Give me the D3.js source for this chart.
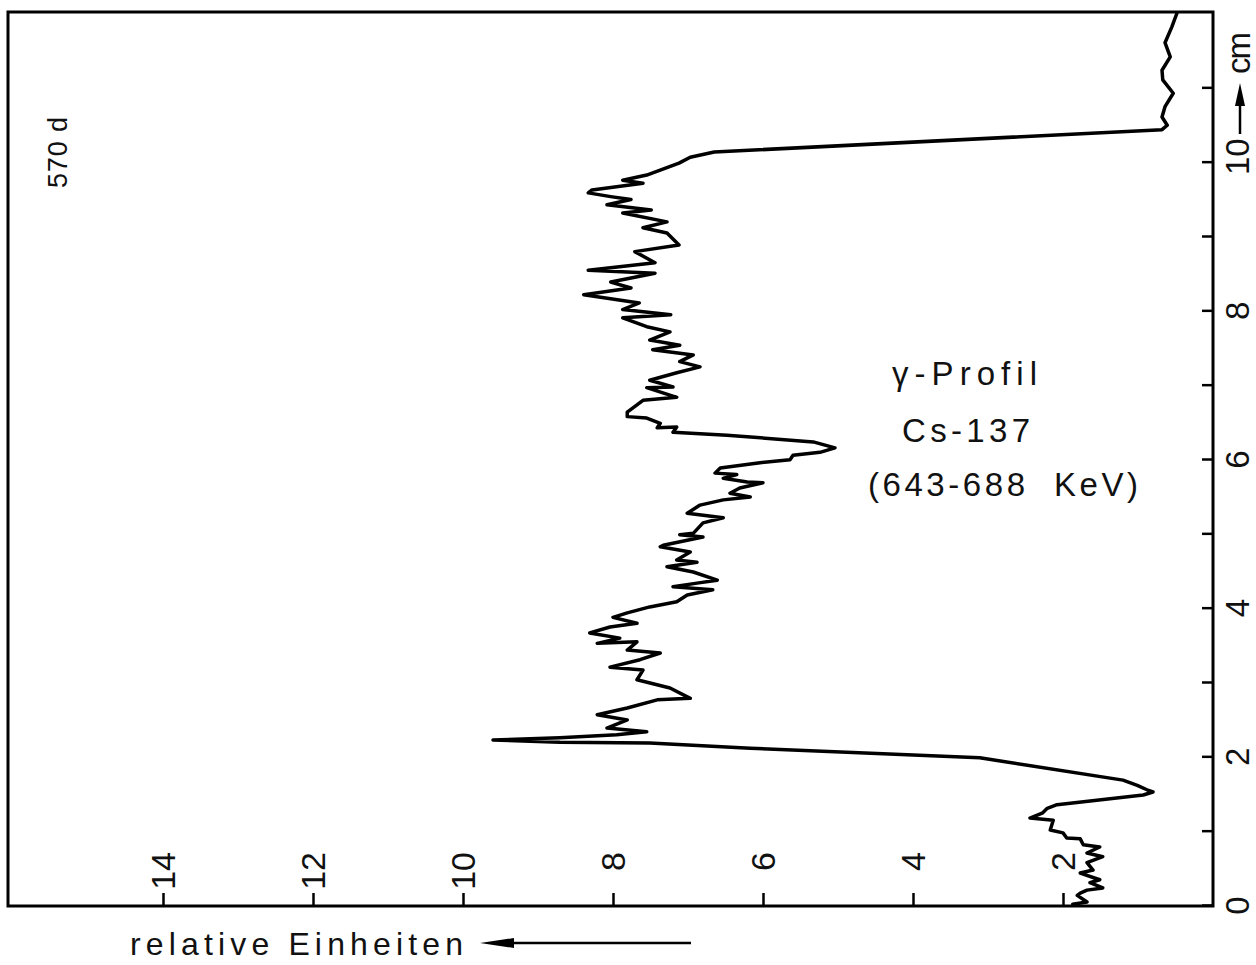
<!DOCTYPE html>
<html>
<head>
<meta charset="utf-8">
<script src="https://cdn.jsdelivr.net/npm/d3@7"></script>
<style>
  html, body { margin: 0; padding: 0; background: #fff; }
  svg { display: block; }
  text { font-family: "Liberation Sans", Arial, sans-serif; fill: #111; }
</style>
</head>
<body>
<svg id="chart" width="1256" height="965"></svg>
<script>
// Gamma scan of Cs-137 along the sample: depth (cm) and count rate (relative units)
const depthCm = [
  12.0, 11.81, 11.60, 11.41, 11.23, 11.10, 10.92, 10.74, 10.60, 10.49, 10.43,
  10.13, 10.06, 9.98, 9.82, 9.75, 9.71, 9.62, 9.58, 9.53, 9.49, 9.42, 9.35, 9.31,
  9.19, 9.11, 9.04, 8.88, 8.79, 8.64, 8.54, 8.50, 8.38, 8.30, 8.21, 8.10, 8.01,
  7.94, 7.90, 7.78, 7.71, 7.60, 7.53, 7.47, 7.40, 7.31, 7.24, 7.16, 7.06, 6.97,
  6.96, 6.83, 6.79, 6.63, 6.57, 6.55, 6.48, 6.42, 6.43, 6.36, 6.32, 6.23, 6.15,
  6.09, 6.05, 5.99, 5.95, 5.88, 5.81, 5.79, 5.74, 5.69, 5.68, 5.61, 5.54, 5.49,
  5.45, 5.38, 5.27, 5.21, 5.14, 5.00, 4.98, 4.95, 4.84, 4.82, 4.75, 4.64, 4.61,
  4.55, 4.48, 4.37, 4.33, 4.28, 4.24, 4.17, 4.08, 4.01, 3.93, 3.87, 3.79, 3.74,
  3.66, 3.59, 3.52, 3.54, 3.43, 3.39, 3.30, 3.20, 3.16, 3.03, 2.92, 2.78, 2.76,
  2.65, 2.56, 2.49, 2.38, 2.33, 2.29, 2.25, 2.22, 2.19, 2.18, 2.11, 1.98, 1.68,
  1.61, 1.55, 1.52, 1.48, 1.35, 1.30, 1.24, 1.17, 1.14, 1.01, 0.97, 0.90, 0.89,
  0.81, 0.78, 0.70, 0.65, 0.57, 0.47, 0.43, 0.34, 0.30, 0.23, 0.20, 0.16, 0.13,
  0.04, 0.01
];
const relValue = [
  0.48, 0.55, 0.64, 0.57, 0.68, 0.67, 0.53, 0.64, 0.68, 0.61, 0.68,
  6.65, 6.97, 7.12, 7.55, 7.87, 7.60, 8.28, 8.33, 8.03, 7.76, 8.08, 7.49, 7.87,
  7.28, 7.60, 7.28, 7.12, 7.71, 7.44, 8.33, 7.44, 8.03, 7.76, 8.39, 7.65, 7.87,
  7.23, 7.87, 7.55, 7.24, 7.51, 7.11, 7.47, 6.93, 7.11, 6.84, 7.15, 7.51, 7.20,
  7.55, 7.15, 7.60, 7.81, 7.81, 7.55, 7.37, 7.41, 7.15, 7.20, 6.48, 5.33, 5.04,
  5.24, 5.60, 5.64, 6.04, 6.57, 6.64, 6.35, 6.53, 6.21, 6.00, 6.31, 6.44, 6.17,
  6.53, 6.84, 7.01, 6.53, 6.80, 6.93, 7.11, 6.80, 7.33, 7.37, 6.97, 7.15, 6.88,
  7.28, 6.93, 6.61, 6.88, 7.20, 6.67, 7.01, 7.15, 7.51, 7.81, 8.00, 7.68, 8.04,
  8.31, 7.91, 8.21, 7.68, 7.81, 7.37, 7.64, 8.04, 7.60, 7.68, 7.24, 6.97, 7.41,
  7.81, 8.21, 7.81, 8.08, 7.55, 7.95, 8.71, 9.60, 8.71, 7.51, 6.17, 3.11, 1.20,
  1.01, 0.88, 0.80, 0.93, 2.08, 2.21, 2.27, 2.44, 2.13, 2.17, 2.00, 1.95, 1.77,
  1.73, 1.51, 1.68, 1.47, 1.68, 1.60, 1.77, 1.51, 1.64, 1.47, 1.68, 1.77, 1.81,
  1.68, 1.87
];

const valueTicks = [2, 4, 6, 8, 10, 12, 14];
const depthTicks = [0, 1, 2, 3, 4, 5, 6, 7, 8, 9, 10, 11];
const depthLabels = [0, 2, 4, 6, 8];

const svg = d3.select("#chart");
const frameLeft = 8, frameRight = 1213, frameTop = 12, frameBottom = 906;

// value axis runs right-to-left, depth axis bottom-to-top
const x = d3.scaleLinear().domain([0, 16]).range([frameRight, 13]);
const y = d3.scaleLinear().domain([0, 12]).range([905, 13]);

// profile trace
const line = d3.line()
  .x(i => x(relValue[i]))
  .y(i => y(depthCm[i]));

svg.append("path")
  .attr("d", line(d3.range(depthCm.length)))
  .attr("fill", "none")
  .attr("stroke", "#000")
  .attr("stroke-width", 3.5)
  .attr("stroke-linejoin", "round")
  .attr("stroke-linecap", "round");

// frame
svg.append("rect")
  .attr("x", frameLeft).attr("y", frameTop)
  .attr("width", frameRight - frameLeft).attr("height", frameBottom - frameTop)
  .attr("fill", "none").attr("stroke", "#000").attr("stroke-width", 3);

// bottom axis: inward ticks, labels turned upright along the axis
const gx = svg.append("g")
  .attr("transform", `translate(0,${frameBottom})`)
  .call(d3.axisBottom(x).tickValues(valueTicks).tickSizeInner(-13).tickSizeOuter(0));
gx.select(".domain").remove();
gx.selectAll("line").attr("stroke", "#000").attr("stroke-width", 2.5);
gx.selectAll("text")
  .attr("x", 0).attr("y", 0).attr("dy", "0.35em")
  .attr("transform", "translate(0,-54) rotate(-90)")
  .attr("text-anchor", "end")
  .style("font-size", "34px")
  .style("font-family", "Liberation Sans, Arial, sans-serif")
  .attr("fill", "#111");

// right axis: depth in cm
const gy = svg.append("g")
  .attr("transform", `translate(${frameRight},0)`)
  .call(d3.axisRight(y).tickValues(depthTicks).tickSizeInner(-11).tickSizeOuter(0)
    .tickFormat(d => depthLabels.includes(d) ? String(d) : ""));
gy.select(".domain").remove();
gy.selectAll("line").attr("stroke", "#000").attr("stroke-width", 2.5);
gy.selectAll("text")
  .attr("x", 0).attr("y", 0).attr("dy", 0)
  .attr("transform", "translate(36,0) rotate(-90)")
  .attr("text-anchor", "middle")
  .style("font-size", "33px")
  .style("font-family", "Liberation Sans, Arial, sans-serif")
  .attr("fill", "#111");

// "10 —> cm" unit label
svg.append("text")
  .attr("transform", `translate(1249,${y(10) - 5}) rotate(-90)`)
  .attr("text-anchor", "middle")
  .style("font-size", "33px")
  .text("10");
svg.append("line")
  .attr("x1", 1240).attr("x2", 1240)
  .attr("y1", 134).attr("y2", 100)
  .attr("stroke", "#000").attr("stroke-width", 2.5);
svg.append("path")
  .attr("d", "M1240,83 L1235,106 L1245,106 Z")
  .attr("fill", "#000");
svg.append("text")
  .attr("transform", "translate(1250,74) rotate(-90)")
  .attr("text-anchor", "start")
  .attr("textLength", 42)
  .style("font-size", "33px")
  .text("cm");

// sample age
svg.append("text")
  .attr("transform", "translate(67,188) rotate(-90)")
  .attr("text-anchor", "start")
  .attr("textLength", 71)
  .style("font-size", "27px")
  .text("570 d");

// annotation block
const notes = [
  { t: "γ-Profil", x: 892, y: 385, w: 145 },
  { t: "Cs-137", x: 902, y: 442, w: 128 },
  { t: "(643-688  KeV)", x: 868, y: 496, w: 270 }
];
svg.selectAll("text.note").data(notes).join("text")
  .attr("class", "note")
  .attr("x", d => d.x).attr("y", d => d.y)
  .attr("textLength", d => d.w)
  .attr("lengthAdjust", "spacing")
  .style("font-size", "33px")
  .style("white-space", "pre")
  .text(d => d.t);

// value axis title with arrow
svg.append("text")
  .attr("x", 130).attr("y", 955)
  .attr("textLength", 333)
  .attr("lengthAdjust", "spacing")
  .style("font-size", "32px")
  .text("relative Einheiten");
svg.append("line")
  .attr("x1", 512).attr("x2", 691)
  .attr("y1", 943).attr("y2", 943)
  .attr("stroke", "#000").attr("stroke-width", 2.5);
svg.append("path")
  .attr("d", "M480,943 L514,938 L514,948 Z")
  .attr("fill", "#000");
</script>
</body>
</html>
